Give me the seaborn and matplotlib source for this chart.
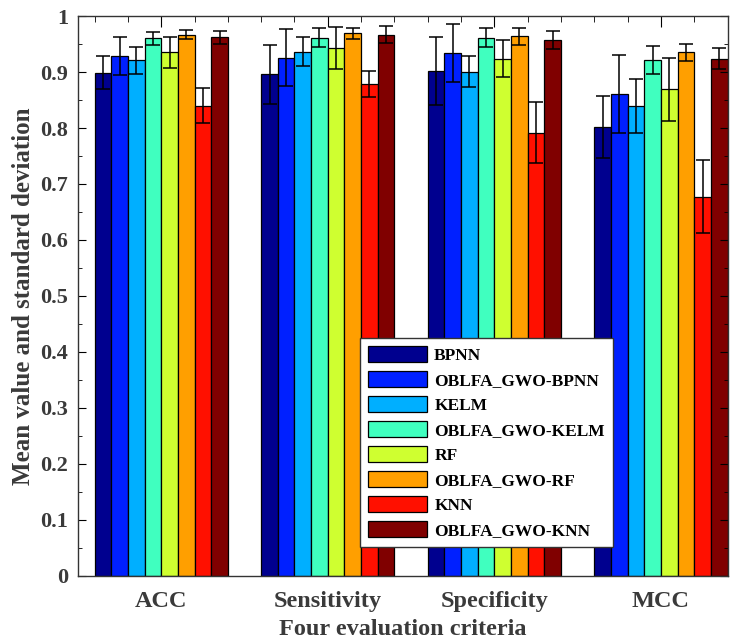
import numpy as np
import pandas as pd
import seaborn as sns
import matplotlib.pyplot as plt
from matplotlib.ticker import MultipleLocator

criteria = ['ACC', 'Sensitivity', 'Specificity', 'MCC']
models = ['BPNN', 'OBLFA_GWO-BPNN', 'KELM', 'OBLFA_GWO-KELM',
          'RF', 'OBLFA_GWO-RF', 'KNN', 'OBLFA_GWO-KNN']
colors = ['#00008f', '#0020ff', '#00afff', '#40ffbf',
          '#cfff30', '#ff9f00', '#ff1000', '#800000']

# mean values per criterion (one entry per model)
acc_mean = [0.899, 0.929, 0.921, 0.960, 0.935, 0.967, 0.840, 0.962]
sens_mean = [0.896, 0.926, 0.936, 0.961, 0.943, 0.969, 0.879, 0.967]
spec_mean = [0.902, 0.934, 0.901, 0.961, 0.924, 0.964, 0.792, 0.957]
mcc_mean = [0.802, 0.861, 0.839, 0.921, 0.869, 0.935, 0.677, 0.924]

# standard deviations
acc_std = [0.029, 0.034, 0.024, 0.012, 0.027, 0.008, 0.031, 0.011]
sens_std = [0.053, 0.051, 0.026, 0.017, 0.037, 0.010, 0.023, 0.015]
spec_std = [0.060, 0.052, 0.028, 0.017, 0.033, 0.015, 0.054, 0.016]
mcc_std = [0.055, 0.069, 0.048, 0.025, 0.057, 0.015, 0.065, 0.019]

means = [acc_mean, sens_mean, spec_mean, mcc_mean]
stds = [acc_std, sens_std, spec_std, mcc_std]
rows = []
for c, m_list, s_list in zip(criteria, means, stds):
    for m, v, s in zip(models, m_list, s_list):
        rows.append({'criterion': c, 'model': m, 'mean': v, 'std': s})
df = pd.DataFrame(rows)

plt.rcParams['font.family'] = ['Liberation Serif', 'DejaVu Serif']
plt.rcParams['font.weight'] = 'bold'
txt = '#3a3a3a'

fig = plt.figure(figsize=(7.35, 6.44), dpi=100)
ax = fig.add_axes([0.106, 0.106, 0.884, 0.869])

sns.barplot(data=df, x='criterion', y='mean', hue='model', order=criteria,
            hue_order=models, palette=colors, saturation=1, errorbar=None,
            width=0.8, edgecolor='black', linewidth=0.9, ax=ax)

# error bars from the given standard deviations
for model, cont in zip(models, ax.containers):
    sub = df[df['model'] == model].set_index('criterion').loc[criteria]
    xs = [b.get_x() + b.get_width() / 2 for b in cont]
    ys = [b.get_height() for b in cont]
    ax.errorbar(xs, ys, yerr=sub['std'].values, fmt='none', ecolor='black',
                elinewidth=1.1, capsize=5, capthick=1.1, zorder=5)

ax.set_xlim(-0.5, 3.4)
ax.set_ylim(0, 1)
ax.yaxis.set_minor_locator(MultipleLocator(0.05))
ax.xaxis.set_minor_locator(MultipleLocator(0.2))
ax.set_yticks(np.arange(0, 1.01, 0.1))
ax.set_yticklabels(['0'] + [f'{v:.1f}' for v in np.arange(0.1, 0.95, 0.1)] + ['1'])

ax.tick_params(axis='y', which='both', direction='in', left=True, right=True,
               labelsize=16, labelcolor=txt, pad=7)
ax.tick_params(axis='y', which='major', length=6)
ax.tick_params(axis='y', which='minor', length=3)
ax.tick_params(axis='x', which='both', direction='in', bottom=False, top=True,
               labelsize=17.5, labelcolor=txt, pad=11)
ax.tick_params(axis='x', which='major', length=8)
ax.tick_params(axis='x', which='minor', length=4)
for s in ax.spines.values():
    s.set_color('#333333')
    s.set_linewidth(1.0)

ax.set_xlabel('Four evaluation criteria', fontsize=17.5, fontweight='bold',
              color=txt, labelpad=5)
ax.set_ylabel('Mean value and standard deviation', fontsize=18,
              fontweight='bold', color=txt, labelpad=4)

handles, labels = ax.get_legend_handles_labels()
leg = ax.legend(handles, labels, loc='lower right',
                bbox_to_anchor=(0.823, 0.052), frameon=True, fancybox=False,
                framealpha=1, edgecolor='#333333', handlelength=3.4,
                handleheight=1.0, handletextpad=0.4, labelspacing=0.42,
                borderpad=0.45, borderaxespad=0.0,
                prop={'size': 12.5, 'weight': 'bold'})
for h in leg.legend_handles:
    h.set_edgecolor('black')

fig.savefig('out.png', dpi=100)
